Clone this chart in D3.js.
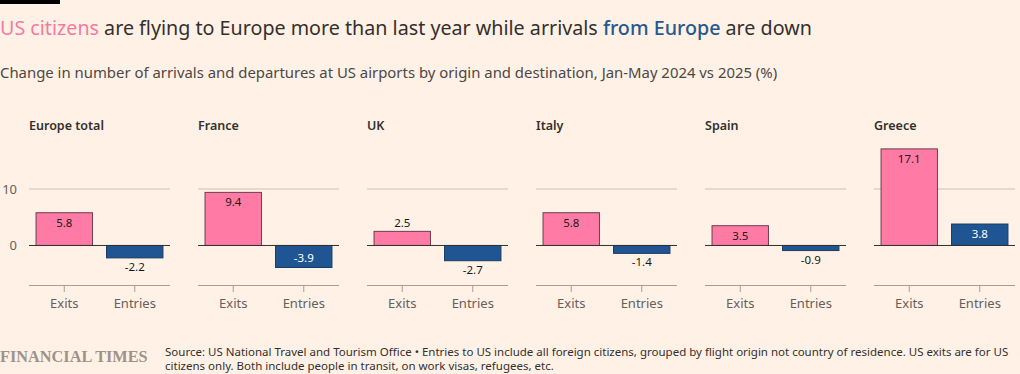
<!DOCTYPE html>
<meta charset="utf-8">
<style>
body { margin: 0; background: #fff1e5; }
svg { display: block; font-family: "Noto Sans", sans-serif; }
.grid line { stroke: #ccc1b7; }
.tick-label { fill: #66605c; font-size: 13px; }
</style>
<script src="https://d3js.org/d3.v7.min.js"></script>
<div id="chart"></div>
<script>

// data
var panels = ["Europe total", "France", "UK", "Italy", "Spain", "Greece"];
var kinds = ["Exits", "Entries"];
var exits = [5.8, 9.4, 2.5, 5.8, 3.5, 17.1];
var entries = [-2.2, -3.9, -2.7, -1.4, -0.9, 3.8];
var yTicks = [0, 10];

var width = 1020, height = 374;
var pink = "#ff7ba6", blue = "#1f5592";

var svg = d3.select("#chart")
  .append("svg")
    .attr("width", width)
    .attr("height", height);

svg.append("rect").attr("width", width).attr("height", height).attr("fill", "#fff1e5");
svg.append("rect").attr("width", 60).attr("height", 4).attr("fill", "#000");

// title
var title = svg.append("text")
  .attr("x", 0).attr("y", 35)
  .style("font-size", "19.7px")
  .attr("fill", "#33302e");
title.append("tspan").attr("fill", "#f47aa2").text("US citizens");
title.append("tspan").text(" are flying to Europe more than last year while arrivals ");
title.append("tspan").attr("fill", "#245a90").style("font-weight", 500).text("from Europe");
title.append("tspan").text(" are down");

svg.append("text")
  .attr("x", 0).attr("y", 78)
  .style("font-size", "14.9px")
  .attr("fill", "#4d4845")
  .text("Change in number of arrivals and departures at US airports by origin and destination, Jan-May 2024 vs 2025 (%)");

// scales
var y = d3.scaleLinear().domain([-7, 10]).range([285, 189]);
var panelX = d3.scalePoint().domain(panels).range([29, 874]);
var panelW = 141;
var x = d3.scaleBand().domain(kinds).range([0, panelW]).paddingInner(0.2).paddingOuter(0.1);

// y labels on first panel only
svg.append("g")
  .selectAll("text")
  .data(yTicks)
  .join("text")
    .attr("x", 17)
    .attr("y", function (d) { return y(d); })
    .attr("dy", "0.35em")
    .attr("text-anchor", "end")
    .attr("class", "tick-label")
    .text(function (d) { return d; });

panels.forEach(function (name, i) {
  var g = svg.append("g").attr("transform", "translate(" + panelX(name) + ",0)");

  g.append("text")
    .attr("x", 0).attr("y", 130)
    .style("font-size", "12.5px")
    .style("font-weight", 600)
    .attr("fill", "#33302e")
    .text(name);

  // gridline at 10
  g.append("g").attr("class", "grid")
    .selectAll("line")
    .data(yTicks.filter(function (d) { return d !== 0; }))
    .join("line")
      .attr("x1", 0).attr("x2", panelW)
      .attr("y1", function (d) { return y(d); })
      .attr("y2", function (d) { return y(d); });

  // bottom axis
  var ax = g.append("g")
    .attr("transform", "translate(0," + y(-7) + ")")
    .call(d3.axisBottom(x).tickSize(7).tickSizeOuter(0).tickPadding(7));
  ax.attr("font-family", null).attr("font-size", null);
  ax.select(".domain").attr("stroke", "#a69d96").attr("d", "M0,0.5H" + panelW);
  ax.selectAll(".tick line").attr("stroke", "#a69d96");
  ax.selectAll(".tick text").attr("class", "tick-label").attr("fill", null);

  var vals = [exits[i], entries[i]];
  var bars = kinds.map(function (k, j) { return { kind: k, value: vals[j] }; });

  g.selectAll("rect.bar")
    .data(bars)
    .join("rect")
      .attr("class", "bar")
      .attr("x", function (d) { return x(d.kind); })
      .attr("width", x.bandwidth())
      .attr("y", function (d) { return y(Math.max(0, d.value)); })
      .attr("height", function (d) { return Math.abs(y(d.value) - y(0)); })
      .attr("fill", function (d) { return d.kind === "Exits" ? pink : blue; })
      .attr("stroke", function (d) { return d.kind === "Exits" ? "#6b3d4d" : "#1a3c62"; })
      .attr("stroke-width", 1);

  // zero line
  g.append("line")
    .attr("x1", 0).attr("x2", panelW)
    .attr("y1", y(0)).attr("y2", y(0))
    .attr("stroke", "#33302e").attr("stroke-width", 1);

  // value labels
  g.selectAll("text.val")
    .data(bars)
    .join("text")
      .attr("class", "val")
      .attr("x", function (d) { return x(d.kind) + x.bandwidth() / 2; })
      .attr("text-anchor", "middle")
      .style("font-size", "11.5px")
      .attr("y", function (d) {
        var inside = Math.abs(d.value) >= 3;
        if (d.value >= 0) return inside ? y(d.value) + 14 : y(d.value) - 4;
        return inside ? y(d.value) - 5 : y(d.value) + 13;
      })
      .attr("fill", function (d) {
        var inside = Math.abs(d.value) >= 3;
        return (inside && d.kind === "Entries") ? "#fff" : "#1a1817";
      })
      .text(function (d) { return d.value.toFixed(1); });
});

// footer
svg.append("text")
  .attr("x", 0).attr("y", 362)
  .style("font-family", "'Liberation Serif', serif")
  .style("font-size", "16.3px")
  .style("font-weight", "bold")
  .attr("fill", "#9e928a")
  .text("FINANCIAL TIMES");

var src = svg.append("text")
  .style("font-size", "11.5px")
  .attr("fill", "#33302e");
src.append("tspan").attr("x", 165).attr("y", 356)
  .text("Source: US National Travel and Tourism Office \u2022 Entries to US include all foreign citizens, grouped by flight origin not country of residence. US exits are for US");
src.append("tspan").attr("x", 165).attr("y", 370)
  .text("citizens only. Both include people in transit, on work visas, refugees, etc.");
</script>
